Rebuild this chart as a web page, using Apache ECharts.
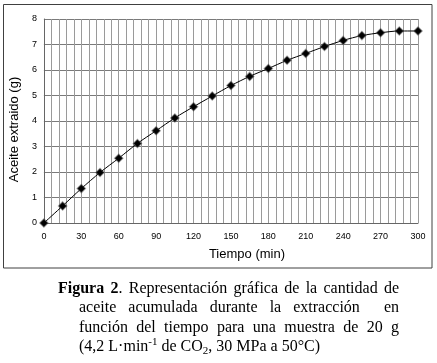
<!DOCTYPE html>
<html>
<head>
<meta charset="utf-8">
<script src="https://cdn.jsdelivr.net/npm/echarts@6/dist/echarts.min.js"></script>
<style>
  html, body { margin: 0; padding: 0; background: #fff; }
  #wrap { position: relative; width: 437px; height: 363px; overflow: hidden; }
  #chart { position: absolute; left: 0; top: 0; width: 437px; height: 363px; }
  #caption { position: absolute; left: 58px; top: 278px; width: 341px;
    font-family: "Liberation Serif", "Times New Roman", serif; font-size: 16px; line-height: 19.3px; color: #000; }
  #caption .ln { text-align: justify; text-align-last: justify; white-space: nowrap; }
  #caption .ln.first { padding-left: 0; }
  #caption .ln.rest { padding-left: 21px; }
  #caption .ln.last { text-align-last: left; }
  .sup { position: relative; top: -6px; font-size: 11px; line-height: 0; }
  .sub { position: relative; top: 3px; font-size: 11px; line-height: 0; }
</style>
</head>
<body>
<div id="wrap">
  <div id="chart"></div>
  <div id="caption">
    <div class="ln first"><b>Figura 2</b>. Representación gráfica de la cantidad de</div>
    <div class="ln rest">aceite acumulada durante la extracción &nbsp;en</div>
    <div class="ln rest">función del tiempo para una muestra de 20 g</div>
    <div class="ln rest last">(4,2 L·min<span class="sup">-1</span> de CO<span class="sub">2</span>, 30 MPa a 50°C)</div>
  </div>
</div>
<script>
const tiempo = [0, 15, 30, 45, 60, 75, 90, 105, 120, 135, 150, 165, 180, 195, 210, 225, 240, 255, 270, 285, 300];
const aceite = [0, 0.67, 1.35, 1.98, 2.54, 3.12, 3.62, 4.12, 4.56, 4.98, 5.39, 5.75, 6.06, 6.38, 6.65, 6.92, 7.16, 7.35, 7.46, 7.53, 7.53];
const xTickLabels = ['0', '30', '60', '90', '120', '150', '180', '210', '240', '270', '300'];
const yTickLabels = ['0', '1', '2', '3', '4', '5', '6', '7', '8'];
const xName = 'Tiempo (min)';
const yName = 'Aceite extraido (g)';

const points = tiempo.map((t, i) => [t, aceite[i]]);
const chart = echarts.init(document.getElementById('chart'), null, { renderer: 'canvas' });
const tickFont = { fontFamily: 'Liberation Sans, Arial, sans-serif', fontSize: 9, color: '#000' };

chart.setOption({
  animation: false,
  backgroundColor: '#fff',
  graphic: [{
    type: 'rect', silent: true, z: -1,
    shape: { x: 3.5, y: 4.5, width: 428.5, height: 263.5 },
    style: { fill: 'none', stroke: '#404040', lineWidth: 1 }
  }],
  grid: { left: 38, top: 19, width: 380, height: 204, containLabel: false },
  xAxis: {
    type: 'value', min: 0, max: 300, interval: 30,
    name: xName, nameLocation: 'middle', nameGap: 25,
    nameTextStyle: { fontFamily: 'Liberation Sans, Arial, sans-serif', fontSize: 13, color: '#000', padding: [0, 0, 0, 32] },
    axisLine: { show: true, lineStyle: { color: '#666', width: 1 } },
    axisTick: { show: false },
    minorTick: { show: false, splitNumber: 5 },
    axisLabel: Object.assign({ margin: 9, formatter: v => xTickLabels[Math.round(v / 30)] }, tickFont),
    splitLine: { show: true, lineStyle: { color: '#9a9a9a', width: 1 } },
    minorSplitLine: { show: true, lineStyle: { color: '#9a9a9a', width: 1 } }
  },
  yAxis: {
    type: 'value', min: 0, max: 8, interval: 1,
    name: yName, nameLocation: 'middle', nameGap: 19, nameRotate: 90,
    nameTextStyle: { fontFamily: 'Liberation Sans, Arial, sans-serif', fontSize: 13, color: '#000', padding: [0, 17, 0, 0] },
    axisLine: { show: true, lineStyle: { color: '#666', width: 1 } },
    axisTick: { show: false },
    axisLabel: Object.assign({ margin: 7, formatter: v => yTickLabels[Math.round(v)] }, tickFont),
    splitLine: { show: true, lineStyle: { color: '#7a7a7a', width: 1 } }
  },
  series: [{
    type: 'line',
    data: points,
    smooth: 0.3,
    symbol: 'diamond',
    symbolSize: 8,
    showAllSymbol: true,
    lineStyle: { color: '#000', width: 1 },
    itemStyle: { color: '#000', borderColor: 'rgba(60,60,60,0.45)', borderWidth: 1.5 }
  }]
});
</script>
</body>
</html>
